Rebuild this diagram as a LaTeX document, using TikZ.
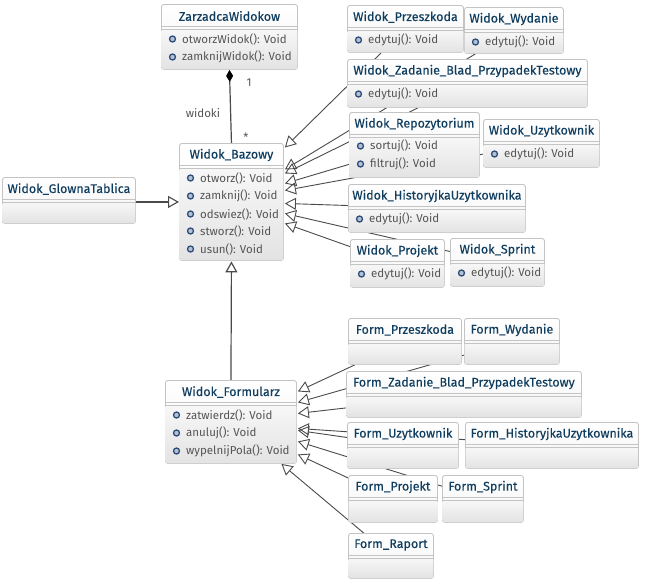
\documentclass[tikz,border=0pt]{standalone}
\usepackage{fontspec}
\setmainfont{Fira Sans}
\newfontfamily\titlefont[FakeBold=0.25]{Fira Sans}
\usetikzlibrary{arrows.meta}
\usetikzlibrary{backgrounds}
\definecolor{titleblue}{HTML}{0F3D5F}
\definecolor{bodygrey}{HTML}{555555}
\definecolor{edgegrey}{HTML}{C4C4C4}
\definecolor{linegrey}{HTML}{4A4A4A}
\definecolor{iconblue}{HTML}{2F4D7A}
\definecolor{iconfill}{HTML}{B4C2D6}
\tikzset{classbox/.style = {draw = edgegrey, line width = .9, rounded corners = 2.5, top color = white, bottom color = black!5, anchor = north west, inner sep = 0}}
\tikzset{classbody/.style = {top color = black!3, bottom color = black!11, rounded corners = 2}}
\tikzset{classrule/.style = {draw = edgegrey, line width = .8}}
\tikzset{classtitle/.style = {text = titleblue, font = \titlefont\fontsize{12.5}{14}\selectfont, inner sep = 0}}
\tikzset{classop/.style = {text = bodygrey, font = \fontsize{11.5}{14}\selectfont, anchor = west, inner sep = 0}}
\tikzset{opicon/.style = {circle, draw = iconblue, fill = iconfill, line width = 1.3, minimum size = 6, inner sep = 0}}
\tikzset{inherit/.style = {draw = linegrey, line width = .9, -{Triangle[open, length = 11, width = 12]}}}
\tikzset{assoclabel/.style = {text = bodygrey, font = \fontsize{11.5}{14}\selectfont, inner sep = 0}}
% name, left, top, width, height, title
\newcommand{\umlclass}[6]{
  \node (#1) [classbox, minimum width = #4, minimum height = #5] at (#2, #3) {};
  \shade [classbody] ([shift = {(.6, 25)}]#1.north west) rectangle ([shift = {(-.6, -.6)}]#1.south east);
  \draw [classrule] ([yshift = -22]#1.north west) -- ([yshift = -22]#1.north east);
  \draw [classrule] ([yshift = -25]#1.north west) -- ([yshift = -25]#1.north east);
  \node (#1title) [classtitle] at ([yshift = -12]#1.north) {#6};
}
% class, suffix, distance from top, text
\newcommand{\umlop}[4]{
  \node (#1icon#2) [opicon] at ([shift = {(11.5, #3)}]#1.north west) {};
  \node (#1op#2) [classop] at ([xshift = 9.5]#1icon#2.center) {#4};
}
\begin{document}
\begin{tikzpicture}[x = 1pt, y = -1pt]
  \useasboundingbox (0, 0) rectangle (646, 584);
  \umlclass{zarzadca}{161}{4}{136}{65}{ZarzadcaWidokow}
  \umlop{zarzadca}{a}{35}{otworzWidok(): Void}
  \umlop{zarzadca}{b}{53}{zamknijWidok(): Void}
  \umlclass{bazowy}{179}{143}{104}{117}{Widok\_Bazowy}
  \umlop{bazowy}{a}{35}{otworz(): Void}
  \umlop{bazowy}{b}{53}{zamknij(): Void}
  \umlop{bazowy}{c}{71}{odswiez(): Void}
  \umlop{bazowy}{d}{88}{stworz(): Void}
  \umlop{bazowy}{e}{106}{usun(): Void}
  \umlclass{glowna}{2}{177}{133}{46}{Widok\_GlownaTablica}
  \umlclass{przeszkoda}{347}{5}{116}{47}{Widok\_Przeszkoda}
  \umlop{przeszkoda}{a}{35}{edytuj(): Void}
  \umlclass{wydanie}{464}{7}{99}{46}{Widok\_Wydanie}
  \umlop{wydanie}{a}{35}{edytuj(): Void}
  \umlclass{zadanie}{347}{59}{240}{48}{Widok\_Zadanie\_Blad\_PrzypadekTestowy}
  \umlop{zadanie}{a}{35}{edytuj(): Void}
  \umlclass{repo}{349}{112}{130}{65}{Widok\_Repozytorium}
  \umlop{repo}{a}{34}{sortuj(): Void}
  \umlop{repo}{b}{52}{filtruj(): Void}
  \umlclass{uzytkownik}{483}{119}{116}{48}{Widok\_Uzytkownik}
  \umlop{uzytkownik}{a}{35}{edytuj(): Void}
  \umlclass{historyjka}{348}{184}{177}{48}{Widok\_HistoryjkaUzytkownika}
  \umlop{historyjka}{a}{35}{edytuj(): Void}
  \umlclass{projekt}{350}{239}{94}{48}{Widok\_Projekt}
  \umlop{projekt}{a}{35}{edytuj(): Void}
  \umlclass{sprint}{450}{238}{94}{48}{Widok\_Sprint}
  \umlop{sprint}{a}{35}{edytuj(): Void}
  \umlclass{formularz}{165}{380}{131}{83}{Widok\_Formularz}
  \umlop{formularz}{a}{35}{zatwierdz(): Void}
  \umlop{formularz}{b}{53}{anuluj(): Void}
  \umlop{formularz}{c}{71}{wypelnijPola(): Void}
  \umlclass{fprzeszkoda}{348}{318}{113}{46}{Form\_Przeszkoda}
  \umlclass{fwydanie}{464}{318}{95}{46}{Form\_Wydanie}
  \umlclass{fzadanie}{346}{371}{235}{46}{Form\_Zadanie\_Blad\_PrzypadekTestowy}
  \umlclass{fuzytkownik}{347}{422}{111}{46}{Form\_Uzytkownik}
  \umlclass{fhistoryjka}{465}{422}{173}{46}{Form\_HistoryjkaUzytkownika}
  \umlclass{fprojekt}{348}{475}{89}{47}{Form\_Projekt}
  \umlclass{fsprint}{442}{475}{81}{47}{Form\_Sprint}
  \umlclass{fraport}{348}{533}{85}{45}{Form\_Raport}
  \node (widoki) [assoclabel] at (203, 113) {widoki};
  \node (jeden) [assoclabel] at (249, 83) {1};
  \node (wiele) [assoclabel] at (246, 137) {*};
  \begin{scope}[on background layer]
    \draw [draw = linegrey, line width = 1.2, {Diamond[length = 12, width = 7, black]}-] (zarzadca.south) -- (bazowy.north);
    \draw [inherit, line width = 1.1] (glowna.east |- bazowy.east) -- (bazowy.west);
    \draw [inherit, line width = 1.2] (formularz.north) -- ([yshift = -.5]bazowy.south);
    \draw [inherit] (przeszkoda) -- ([shift = {(1, -54.5)}]bazowy.east);
    \draw [inherit] (wydanie) -- ([shift = {(1, -32.5)}]bazowy.east);
    \draw [inherit] (zadanie) -- ([shift = {(1, -28.5)}]bazowy.east);
    \draw [inherit] (repo) -- ([shift = {(1, -18.5)}]bazowy.east);
    \draw [inherit] (uzytkownik) -- ([shift = {(1, -11.5)}]bazowy.east);
    \draw [inherit] (historyjka) -- ([shift = {(1, 1.5)}]bazowy.east);
    \draw [inherit] (sprint) -- ([shift = {(1, 11.5)}]bazowy.east);
    \draw [inherit] (projekt) -- ([shift = {(1, 21.5)}]bazowy.east);
    \draw [inherit] (fprzeszkoda) -- ([shift = {(1, -30.5)}]formularz.east);
    \draw [inherit] (fwydanie) -- ([shift = {(1, -19.5)}]formularz.east);
    \draw [inherit] (fzadanie) -- ([shift = {(1, -8.5)}]formularz.east);
    \draw [inherit] (fhistoryjka) -- ([shift = {(1, 6.5)}]formularz.east);
    \draw [inherit] (fuzytkownik) -- ([shift = {(1, 8.5)}]formularz.east);
    \draw [inherit] (fsprint) -- ([shift = {(1, 19.5)}]formularz.east);
    \draw [inherit] (fprojekt) -- ([shift = {(1, 32.5)}]formularz.east);
    \draw [inherit] (fraport) -- ([xshift = 50.5]formularz.south);
  \end{scope}
\end{tikzpicture}
\end{document}
